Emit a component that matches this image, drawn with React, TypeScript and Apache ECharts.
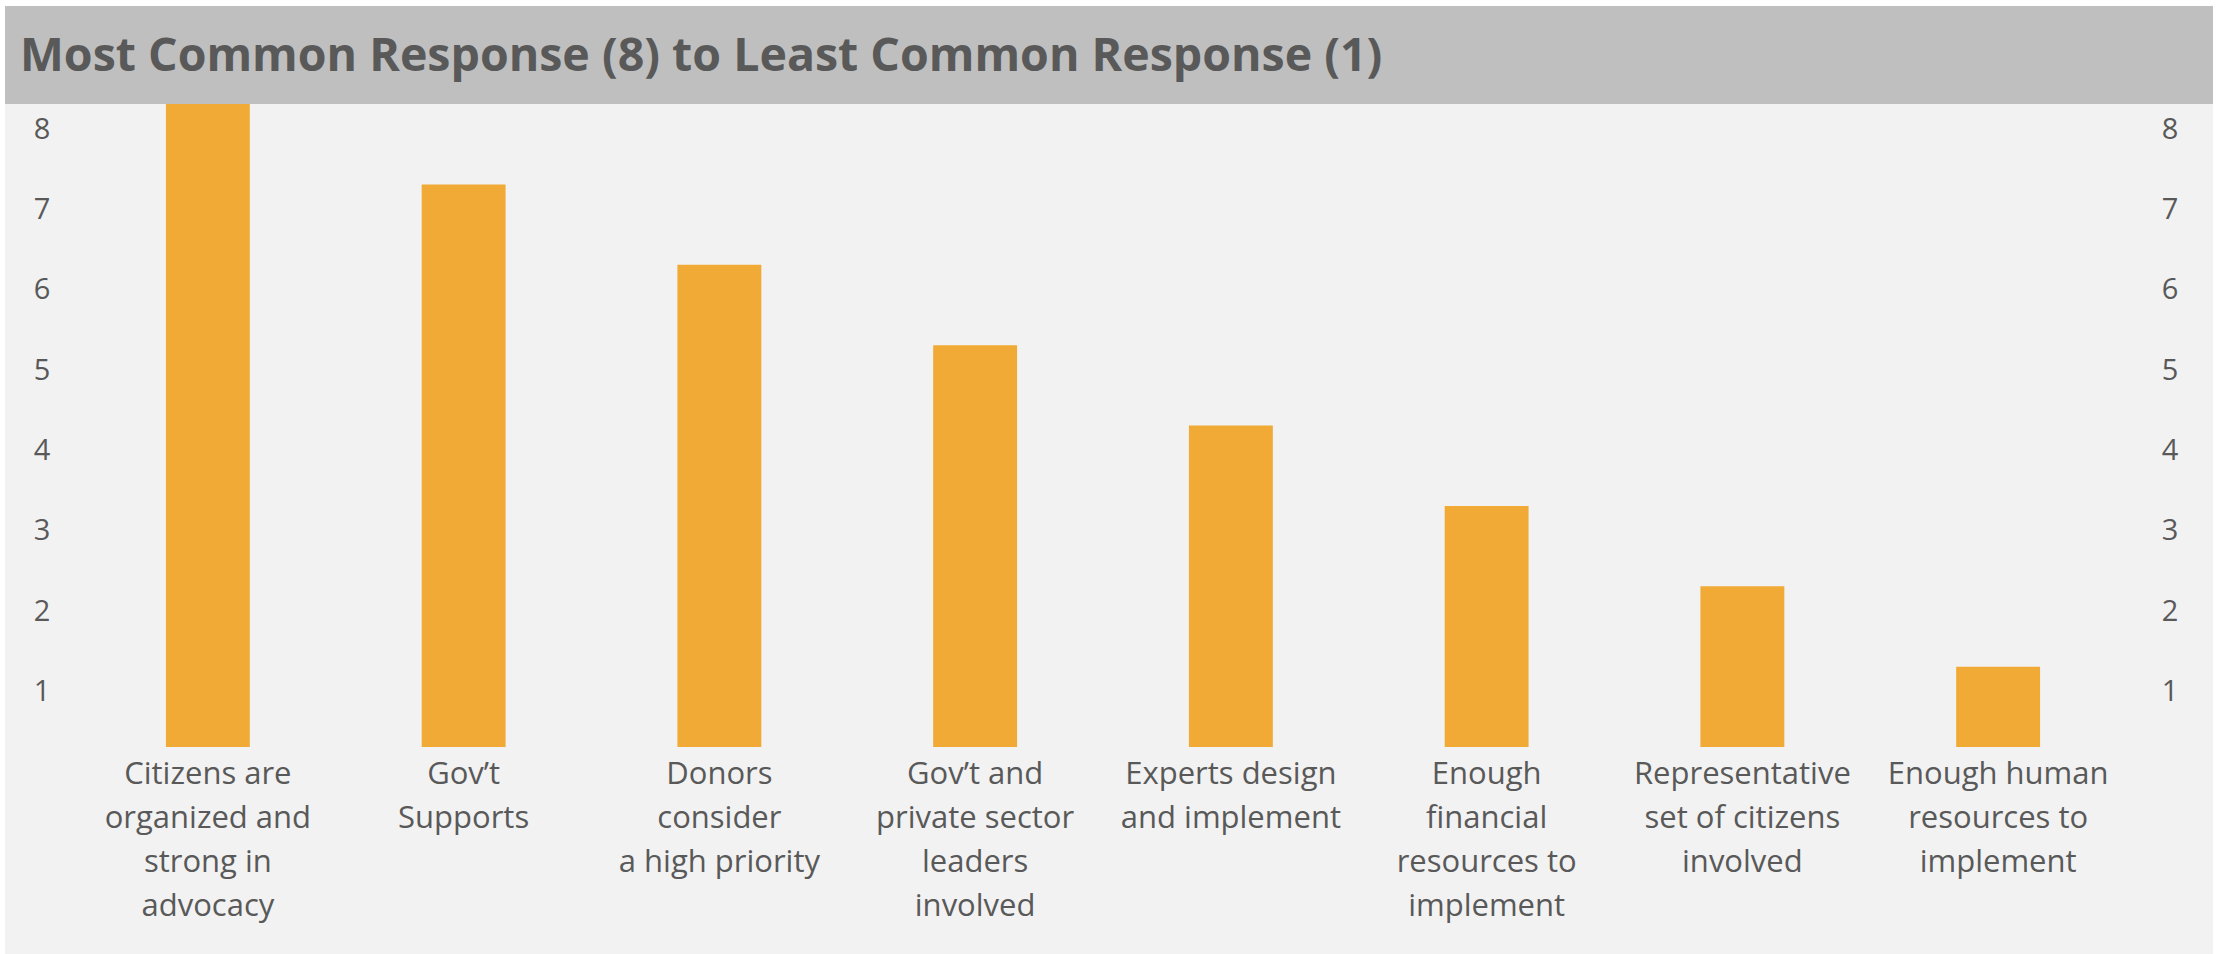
import React, { useEffect, useRef } from "react";
import * as echarts from "echarts";

const titleText = "Most Common Response (8) to Least Common Response (1)";
const categories = [
  "Citizens are\norganized and\nstrong in\nadvocacy",
  "Gov’t\nSupports",
  "Donors\nconsider\na high priority",
  "Gov’t and\nprivate sector\nleaders\ninvolved",
  "Experts design\nand implement",
  "Enough\nfinancial\nresources to\nimplement",
  "Representative\nset of citizens\ninvolved",
  "Enough human\nresources to\nimplement",
];
const values = [8, 7, 6, 5, 4, 3, 2, 1];
const yMin = 0;
const yMax = 8;
const yInterval = 1;

const FONT = "'Open Sans', Lato, sans-serif";
const TEXT = "#595959";

export default function App() {
  const ref = useRef<HTMLDivElement>(null);
  useEffect(() => {
    document.body.style.margin = "0";
    const chart = echarts.init(ref.current!, null, { renderer: "svg" });
    const yAxisCommon = {
      type: "value",
      min: yMin,
      max: yMax,
      interval: yInterval,
      axisLine: { show: false },
      axisTick: { show: false },
      splitLine: { show: false },
    };
    const yLabel = {
      showMinLabel: false,
      align: "center",
      verticalAlign: "top",
      lineHeight: 46,
      fontSize: 29,
      color: TEXT,
      fontFamily: FONT,
    };
    chart.setOption({
      animation: false,
      backgroundColor: "#ffffff",
      textStyle: { fontFamily: FONT },
      graphic: [
        {
          type: "rect",
          z: -10,
          silent: true,
          shape: { x: 5, y: 6, width: 2208, height: 948 },
          style: { fill: "#f2f2f2" },
        },
        {
          type: "rect",
          z: -9,
          silent: true,
          shape: { x: 5, y: 6, width: 2208, height: 98 },
          style: { fill: "#bfbfbf" },
        },
      ],
      title: {
        text: titleText,
        left: 20,
        top: 29,
        padding: 0,
        textStyle: {
          fontFamily: FONT,
          fontWeight: "bold",
          fontSize: 46.5,
          color: TEXT,
        },
      },
      grid: { left: 80, right: 95, top: 104, bottom: 207 },
      xAxis: {
        type: "category",
        data: categories,
        axisLine: { show: false },
        axisTick: { show: false },
        axisLabel: {
          interval: 0,
          margin: 3,
          fontSize: 31,
          lineHeight: 44,
          color: TEXT,
          fontFamily: FONT,
          verticalAlign: "top",
        },
      },
      yAxis: [
        { ...yAxisCommon, position: "left", axisLabel: { ...yLabel, margin: 38 } },
        { ...yAxisCommon, position: "right", axisLabel: { ...yLabel, margin: 44 } },
      ],
      series: [
        {
          type: "bar",
          data: values,
          yAxisIndex: 0,
          barWidth: "32.8%",
          itemStyle: { color: "#f0aa35" },
        },
      ],
    });
    return () => chart.dispose();
  }, []);
  return <div ref={ref} style={{ width: 2221, height: 954 }} />;
}
